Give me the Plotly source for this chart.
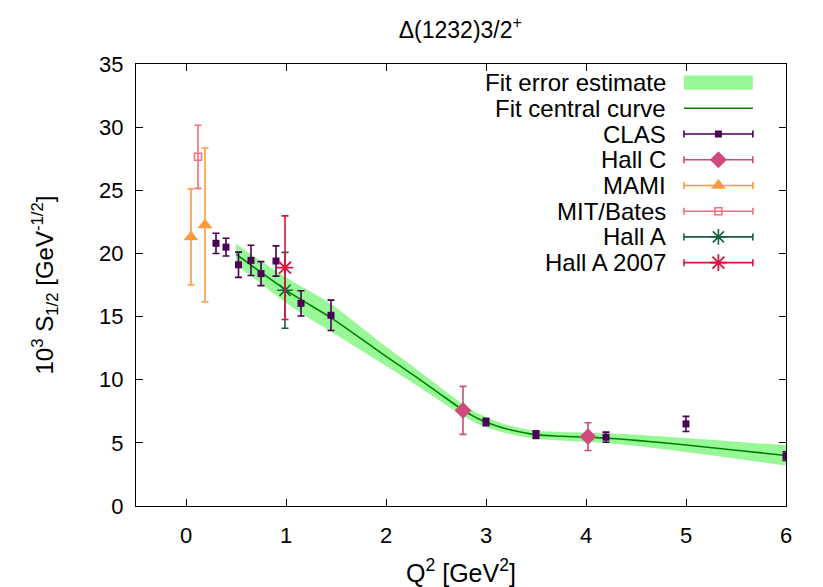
import plotly.graph_objects as go

# ---------------- data ----------------
fit_x = [0.5, 0.75, 1.0, 1.2, 1.44, 1.75, 2.0, 2.25, 2.5, 2.77, 2.9, 3.0, 3.1, 3.25, 3.5, 3.75, 4.0, 4.25, 4.5, 5.0, 5.5, 6.0]
fit_y = [19.95, 18.5, 17.1, 16.1, 14.95, 13.25, 11.85, 10.5, 9.1, 7.6, 7.0, 6.65, 6.35, 6.02, 5.65, 5.52, 5.45, 5.35, 5.2, 4.83, 4.42, 4.0]
fit_err = [0.82, 0.9, 1.0, 1.08, 1.1, 0.92, 0.76, 0.66, 0.56, 0.46, 0.42, 0.4, 0.37, 0.34, 0.32, 0.33, 0.36, 0.4, 0.45, 0.55, 0.67, 0.8]

clas_x = [0.3, 0.4, 0.525, 0.65, 0.75, 0.9, 1.15, 1.45, 3.0, 3.5, 4.2, 5.0, 6.0]
clas_y = [20.8, 20.5, 19.1, 19.45, 18.4, 19.4, 16.05, 15.1, 6.65, 5.65, 5.45, 6.5, 3.95]
clas_e = [0.8, 0.7, 1.0, 1.2, 0.95, 1.2, 1.0, 1.2, 0.3, 0.3, 0.4, 0.6, 0.35]

hallc_x = [2.77, 4.02]
hallc_y = [7.57, 5.49]
hallc_e = [1.9, 1.1]

mami_x = [0.05, 0.19]
mami_y = [21.3, 22.25]
mami_e = [3.8, 6.1]

bates_x = [0.12]
bates_y = [27.65]
bates_e = [2.5]

halla_x = [0.99]
halla_y = [17.08]
halla_e = [3.0]

halla07_x = [0.99]
halla07_y = [18.87]
halla07_e = [4.1]

legend_labels = ["Fit error estimate", "Fit central curve", "CLAS", "Hall C", "MAMI",
                 "MIT/Bates", "Hall A", "Hall A 2007"]

# ---------------- styles ----------------
BAND = "#98f898"
CURVE = "#008000"
C_CLAS = "#4b0055"
C_HALLC = "#cf4a7e"
C_MAMI = "#ff9a3c"
C_BATES = "#f0707c"
C_HALLA = "#14603a"
C_HALLA07 = "#dc143c"
FONT = "Liberation Sans, Arial, Helvetica, sans-serif"

fig = go.Figure()

lower = [y - e for y, e in zip(fit_y, fit_err)]
upper = [y + e for y, e in zip(fit_y, fit_err)]
fig.add_trace(go.Scatter(x=fit_x, y=lower, mode="lines", line=dict(width=0, color=BAND),
                         line_shape="spline", showlegend=False, hoverinfo="skip"))
fig.add_trace(go.Scatter(x=fit_x, y=upper, mode="lines", line=dict(width=0, color=BAND),
                         line_shape="spline", fill="tonexty", fillcolor=BAND, showlegend=False,
                         hoverinfo="skip"))
fig.add_trace(go.Scatter(x=fit_x, y=fit_y, mode="lines", line=dict(width=1.6, color=CURVE),
                         line_shape="spline", showlegend=False))


def pts(x, y, e, color, symbol, size, lw=1.6, mlw=0):
    marker = dict(symbol=symbol, size=size, color=color, line=dict(color=color, width=mlw))
    return go.Scatter(x=x, y=y, mode="markers", marker=marker, showlegend=False,
                      error_y=dict(type="data", array=e, visible=True, color=color,
                                   thickness=lw, width=3.5))


fig.add_trace(pts(mami_x, mami_y, mami_e, C_MAMI, "triangle-up", 13))
fig.add_trace(pts(bates_x, bates_y, bates_e, C_BATES, "square-open", 7, mlw=1.5))
fig.add_trace(pts(clas_x, clas_y, clas_e, C_CLAS, "square", 7))
fig.add_trace(pts(hallc_x, hallc_y, hallc_e, C_HALLC, "diamond", 13))
fig.add_trace(pts(halla_x, halla_y, halla_e, C_HALLA, "asterisk-open", 13, mlw=1.6))
fig.add_trace(pts(halla07_x, halla07_y, halla07_e, C_HALLA07, "asterisk-open", 14, mlw=1.8))

# ---------------- custom gnuplot-style key ----------------
row_top = 0.958
row_step = 0.0582
row_y = [row_top - i * row_step for i in range(len(legend_labels))]
text_x = 0.818
samp_x0, samp_x1 = 0.843, 0.949
samp_xc = (samp_x0 + samp_x1) / 2
samp_hw = (samp_x1 - samp_x0) / 2

for lab, ry in zip(legend_labels, row_y):
    fig.add_annotation(x=text_x, y=ry, xref="paper", yref="paper", text=lab, showarrow=False,
                       xanchor="right", yanchor="middle", font=dict(size=24, color="black", family=FONT))

fig.add_shape(type="rect", xref="paper", yref="paper", x0=samp_x0, x1=samp_x1,
              y0=row_y[0] - 0.016, y1=row_y[0] + 0.016, fillcolor=BAND, line=dict(width=0))
fig.add_shape(type="line", xref="paper", yref="paper", x0=samp_x0, x1=samp_x1,
              y0=row_y[1], y1=row_y[1], line=dict(color=CURVE, width=1.6))

key_styles = [
    (C_CLAS, "square", 7, 0),
    (C_HALLC, "diamond", 13, 0),
    (C_MAMI, "triangle-up", 13, 0),
    (C_BATES, "square-open", 7, 1.5),
    (C_HALLA, "asterisk-open", 13, 1.6),
    (C_HALLA07, "asterisk-open", 14, 1.8),
]
for (col, sym, sz, mlw), ry in zip(key_styles, row_y[2:]):
    fig.add_trace(go.Scatter(x=[samp_xc], y=[ry], xaxis="x2", yaxis="y2", mode="markers",
                             marker=dict(symbol=sym, size=sz, color=col, line=dict(color=col, width=mlw)),
                             error_x=dict(type="constant", value=samp_hw, color=col, thickness=1.6, width=3.5),
                             showlegend=False, hoverinfo="skip"))

axis_common = dict(showline=True, linecolor="black", linewidth=1, mirror="ticks", ticks="inside",
                   ticklen=7, tickcolor="black", showgrid=False, zeroline=False, automargin=False,
                   tickfont=dict(size=22, color="black", family=FONT))

fig.update_layout(
    width=815, height=579,
    margin=dict(l=128, r=37, t=56, b=81),
    paper_bgcolor="white", plot_bgcolor="white",
    showlegend=False,
    title=dict(text="Δ(1232)3/2<sup>+</sup>", x=0.555, xanchor="center", y=0.962, yanchor="middle",
               font=dict(size=23, color="black", family=FONT)),
    xaxis=dict(range=[-0.5, 6], dtick=1, tick0=0, ticklabelstandoff=10,
               title=dict(text="Q<sup>2</sup> [GeV<sup>2</sup>]", standoff=18,
                          font=dict(size=25, color="black", family=FONT)),
               **axis_common),
    yaxis=dict(range=[0, 35], dtick=5, tick0=0, ticklabelstandoff=7,
               title=dict(text="10<sup>3</sup> S<sub>1/2</sub> [GeV<sup>-1/2</sup>]", standoff=38,
                          font=dict(size=24, color="black", family=FONT)),
               **axis_common),
    xaxis2=dict(overlaying="x", range=[0, 1], visible=False, fixedrange=True),
    yaxis2=dict(overlaying="y", range=[0, 1], visible=False, fixedrange=True),
)

fig.write_html("out.html")
